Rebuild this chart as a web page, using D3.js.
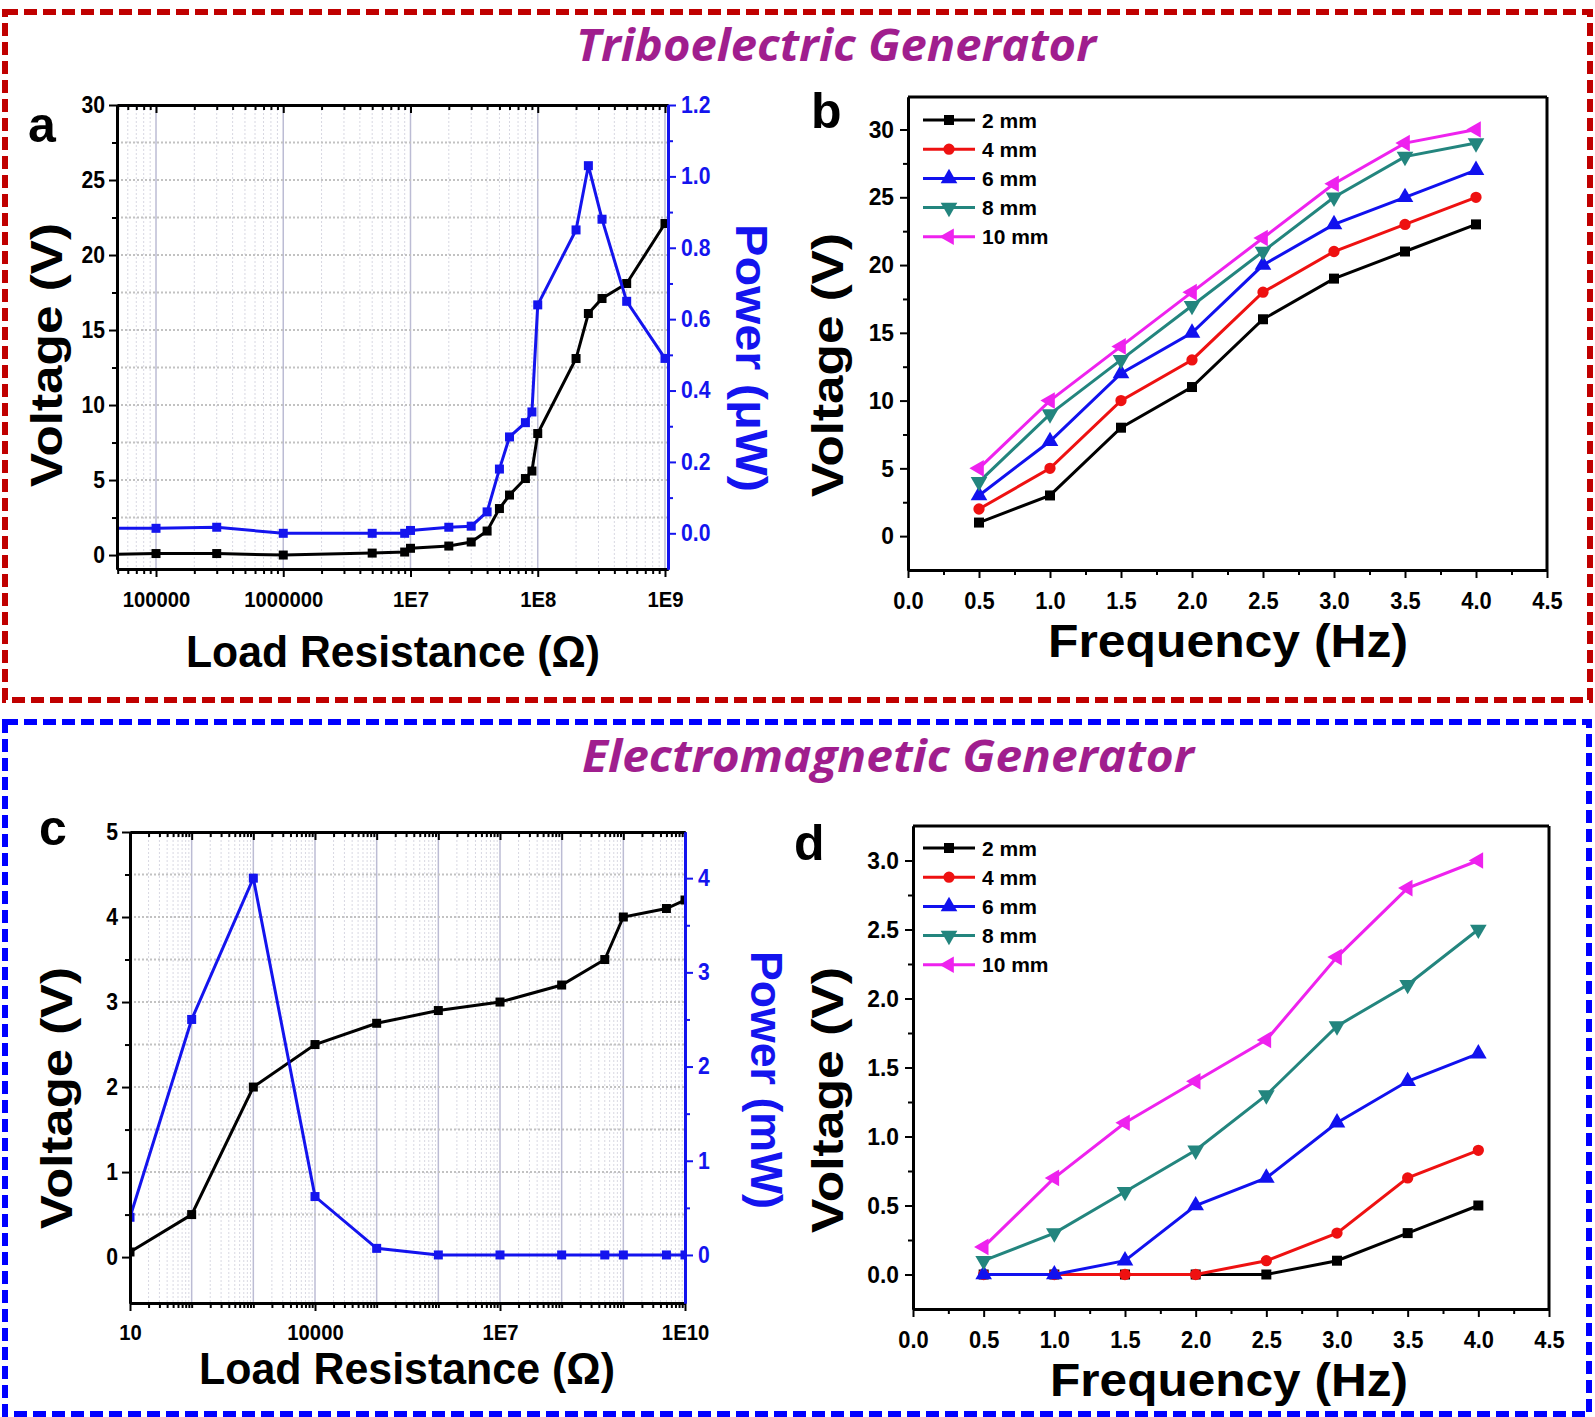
<!DOCTYPE html>
<html><head><meta charset="utf-8">
<script src="https://cdn.jsdelivr.net/npm/d3@7"></script>
<style>body{margin:0;background:#fff}</style>
</head><body><svg id="chart" width="1595" height="1417"></svg>
<script>
// ---------------- DATA ----------------
const triboResistance = [4e4, 1e5, 3e5, 1e6, 5e6, 9e6, 1e7, 2e7, 3e7, 4e7, 5e7, 6e7, 8e7, 9e7, 1e8, 2e8, 2.5e8, 3.2e8, 5e8, 1e9];
const triboVoltage    = [0.05, 0.1, 0.1, 0.0, 0.13, 0.2, 0.45, 0.6, 0.87, 1.6, 3.1, 4.0, 5.1, 5.6, 8.1, 13.1, 16.1, 17.1, 18.1, 22.1];
const triboPower      = [0.014, 0.014, 0.017, 0.0, 0.0, 0.0, 0.008, 0.017, 0.02, 0.06, 0.18, 0.27, 0.31, 0.34, 0.64, 0.85, 1.03, 0.88, 0.65, 0.49];

const emResistance = [1e1, 1e2, 1e3, 1e4, 1e5, 1e6, 1e7, 1e8, 5e8, 1e9, 5e9, 1e10];
const emVoltage    = [0.06, 0.5, 2.0, 2.5, 2.75, 2.9, 3.0, 3.2, 3.5, 4.0, 4.1, 4.2];
const emPower      = [0.4, 2.5, 4.0, 0.62, 0.07, 0.0, 0.0, 0.0, 0.0, 0.0, 0.0, 0.0];

const frequencies = [0.5, 1.0, 1.5, 2.0, 2.5, 3.0, 3.5, 4.0];
const gapLabels = ["2 mm", "4 mm", "6 mm", "8 mm", "10 mm"];
const triboFreqVoltage = [
  [1, 3, 8, 11, 16, 19, 21, 23],
  [2, 5, 10, 13, 18, 21, 23, 25],
  [3, 7, 12, 15, 20, 23, 25, 27],
  [4, 9, 13, 17, 21, 25, 28, 29],
  [5, 10, 14, 18, 22, 26, 29, 30]
];
const emFreqVoltage = [
  [0, 0, 0, 0, 0, 0.1, 0.3, 0.5],
  [0, 0, 0, 0, 0.1, 0.3, 0.7, 0.9],
  [0, 0, 0.1, 0.5, 0.7, 1.1, 1.4, 1.6],
  [0.1, 0.3, 0.6, 0.9, 1.3, 1.8, 2.1, 2.5],
  [0.2, 0.7, 1.1, 1.4, 1.7, 2.3, 2.8, 3.0]
];

const triboXTicks = [1e5, 1e6, 1e7, 1e8, 1e9];
const triboXTickLabels = ["100000", "1000000", "1E7", "1E8", "1E9"];
const emXTicks = [1e1, 1e4, 1e7, 1e10];
const emXTickLabels = ["10", "10000", "1E7", "1E10"];

// ---------------- STYLE ----------------
const FONT = "'Liberation Sans', Arial, Helvetica, sans-serif";
const BLUE = "#1414ee";
const seriesColors = ["#000000", "#ee1111", "#1111ee", "#23857e", "#ee22ee"];
const seriesSymbols = [
  {type: d3.symbolSquare, rot: 0, size: 100},
  {type: d3.symbolCircle, rot: 0, size: 100},
  {type: d3.symbolTriangle, rot: 0, size: 120},
  {type: d3.symbolTriangle, rot: 180, size: 120},
  {type: d3.symbolTriangle, rot: -90, size: 120}
];

const svg = d3.select("#chart");
svg.append("rect").attr("width", 1595).attr("height", 1417).attr("fill", "#fff");

function condense(sel, f) {
  sel.each(function () {
    const l = this.getComputedTextLength();
    if (l > 0) { this.setAttribute("textLength", l * f); this.setAttribute("lengthAdjust", "spacingAndGlyphs"); }
  });
}
function fixAxis(g, color, fontSize, cond) {
  g.select(".domain").attr("stroke", color).attr("stroke-width", 3);
  g.selectAll(".tick line").attr("stroke", color).attr("stroke-width", 2);
  const t = g.selectAll(".tick text").attr("fill", color).attr("font-family", FONT)
    .attr("font-weight", "bold").attr("font-size", fontSize);
  if (cond) condense(t, cond);
}
function textAt(x, y, str, o) {
  const t = svg.append("text").attr("x", 0).attr("y", 0)
    .attr("transform", `translate(${x},${y}) rotate(${o.rot || 0})`)
    .attr("text-anchor", o.anchor || "middle")
    .attr("font-family", o.family || FONT).attr("font-weight", o.weight || "bold")
    .attr("font-size", o.size).attr("fill", o.color || "#000")
    .attr("font-style", o.style || "normal").text(str);
  if (o.len) t.attr("textLength", o.len).attr("lengthAdjust", "spacingAndGlyphs");
  return t;
}

// ---------------- BORDERS & TITLES ----------------
svg.append("rect").attr("x", 5).attr("y", 12).attr("width", 1585).attr("height", 688)
  .attr("fill", "none").attr("stroke", "#c00000").attr("stroke-width", 6).attr("stroke-dasharray", "13,6");
svg.append("rect").attr("x", 5).attr("y", 722).attr("width", 1584).attr("height", 692)
  .attr("fill", "none").attr("stroke", "#0000ff").attr("stroke-width", 6).attr("stroke-dasharray", "13,6");

textAt(836, 61, "Triboelectric Generator", {size: 44, color: "#a01e8e", style: "italic", weight: "bold", family: "'Open Sans', 'Noto Sans', sans-serif", len: 520});
textAt(888, 772, "Electromagnetic Generator", {size: 44, color: "#a01e8e", style: "italic", weight: "bold", family: "'Open Sans', 'Noto Sans', sans-serif", len: 612});

// ---------------- LOG PANELS (a, c) ----------------
function minorLogTicks(lo, hi) {
  const out = [];
  for (let e = Math.floor(Math.log10(lo)); e <= Math.ceil(Math.log10(hi)); e++)
    for (let m = 2; m <= 9; m++) { const v = m * Math.pow(10, e); if (v >= lo && v <= hi) out.push(v); }
  return out;
}
function decades(lo, hi) {
  const out = [];
  for (let e = Math.ceil(Math.log10(lo) - 1e-9); e <= Math.floor(Math.log10(hi) + 1e-9); e++) out.push(Math.pow(10, e));
  return out;
}

function logPanel(c) {
  const {L, R, T, B} = c.box;
  const x = d3.scaleLog().domain(c.xDomain).range([L, R]);
  const y = d3.scaleLinear().domain(c.yDomain).range([B, T]);
  const p = d3.scaleLinear().domain(c.pDomain).range([B, T]);
  const clip = c.id + "-clip";
  svg.append("clipPath").attr("id", clip).append("rect").attr("x", L).attr("y", T - 8).attr("width", R - L).attr("height", B - T + 16);
  const g = svg.append("g");
  const [lo, hi] = x.domain();
  const minors = minorLogTicks(lo, hi);
  const decs = decades(lo, hi);
  // grid
  g.append("g").selectAll("line").data(minors).join("line")
    .attr("x1", d => x(d)).attr("x2", d => x(d)).attr("y1", T).attr("y2", B)
    .attr("stroke", "#d8d8e2").attr("stroke-width", 1).attr("stroke-dasharray", "2,2");
  g.append("g").selectAll("line").data(decs).join("line")
    .attr("x1", d => x(d)).attr("x2", d => x(d)).attr("y1", T).attr("y2", B)
    .attr("stroke", "#bcbcd4").attr("stroke-width", 1.5);
  g.append("g").selectAll("line").data(c.yGrid).join("line")
    .attr("x1", L).attr("x2", R).attr("y1", d => y(d)).attr("y2", d => y(d))
    .attr("stroke", "#c2c2c2").attr("stroke-width", 2).attr("stroke-dasharray", "2,2");

  // series
  const sg = svg.append("g").attr("clip-path", `url(#${clip})`);
  const volt = c.xs.map((v, i) => [v, c.volt[i]]);
  const pow = c.xs.map((v, i) => [v, c.pow[i]]);
  const lineV = d3.line().x(d => x(d[0])).y(d => y(d[1]));
  const lineP = d3.line().x(d => x(d[0])).y(d => p(d[1]));
  ["v", "p"].forEach(k => {
    const data = k === "v" ? volt : pow;
    const col = k === "v" ? "#000" : BLUE;
    const ln = k === "v" ? lineV : lineP;
    const ys = k === "v" ? y : p;
    sg.append("path").datum(data).attr("d", ln).attr("fill", "none").attr("stroke", col).attr("stroke-width", 3);
    sg.append("g").selectAll("rect").data(data).join("rect")
      .attr("x", d => x(d[0]) - 4.5).attr("y", d => ys(d[1]) - 4.5).attr("width", 9).attr("height", 9).attr("fill", col);
  });

  // axes
  const bx = svg.append("g").attr("transform", `translate(0,${B})`)
    .call(d3.axisBottom(x).tickValues(c.xTicks).tickFormat((d, i) => c.xLabels[i]).tickSize(8).tickSizeOuter(0).tickPadding(c.xPad));
  fixAxis(bx, "#000", 22, 0.92);
  const bxm = svg.append("g").attr("transform", `translate(0,${B})`)
    .call(d3.axisBottom(x).tickValues(minors.concat(decs.filter(d => !c.xTicks.includes(d)))).tickFormat("").tickSize(5).tickSizeOuter(0));
  fixAxis(bxm, "#000", 22);
  const tx = svg.append("g").attr("transform", `translate(0,${T})`)
    .call(d3.axisTop(x).tickValues(decs).tickFormat("").tickSize(-8).tickSizeOuter(0));
  fixAxis(tx, "#000", 22);
  const txm = svg.append("g").attr("transform", `translate(0,${T})`)
    .call(d3.axisTop(x).tickValues(minors).tickFormat("").tickSize(-5).tickSizeOuter(0));
  fixAxis(txm, "#000", 22);

  const ly = svg.append("g").attr("transform", `translate(${L},0)`)
    .call(d3.axisLeft(y).tickValues(c.yTicks).tickFormat(d3.format("d")).tickSize(8).tickSizeOuter(0).tickPadding(4));
  fixAxis(ly, "#000", 23, 0.92);
  const lym = svg.append("g").attr("transform", `translate(${L},0)`)
    .call(d3.axisLeft(y).tickValues(c.yMinor).tickFormat("").tickSize(5).tickSizeOuter(0));
  fixAxis(lym, "#000", 23);

  const ry = svg.append("g").attr("transform", `translate(${R},0)`)
    .call(d3.axisRight(p).tickValues(c.pTicks).tickFormat(c.pFmt).tickSize(8).tickSizeOuter(0).tickPadding(5));
  fixAxis(ry, BLUE, 23, 0.92);
  const rym = svg.append("g").attr("transform", `translate(${R},0)`)
    .call(d3.axisRight(p).tickValues(c.pMinor).tickFormat("").tickSize(5).tickSizeOuter(0));
  fixAxis(rym, BLUE, 23);
}

logPanel({
  id: "a", box: {L: 117, R: 668, T: 105, B: 569},
  xDomain: [49370, 1.056e9], yDomain: [-0.93, 30], pDomain: [-0.1, 1.2],
  xs: triboResistance, volt: triboVoltage, pow: triboPower,
  xTicks: triboXTicks, xLabels: triboXTickLabels, xPad: 14,
  yTicks: [0, 5, 10, 15, 20, 25, 30], yMinor: [2.5, 7.5, 12.5, 17.5, 22.5, 27.5],
  yGrid: [2.5, 5, 7.5, 10, 12.5, 15, 17.5, 20, 22.5, 25, 27.5],
  pTicks: [0, 0.2, 0.4, 0.6, 0.8, 1.0, 1.2], pMinor: [0.1, 0.3, 0.5, 0.7, 0.9, 1.1], pFmt: d3.format(".1f")
});
logPanel({
  id: "c", box: {L: 130, R: 685, T: 832, B: 1303},
  xDomain: [10, 1e10], yDomain: [-0.54, 5], pDomain: [-0.51, 4.49],
  xs: emResistance, volt: emVoltage, pow: emPower,
  xTicks: emXTicks, xLabels: emXTickLabels, xPad: 13,
  yTicks: [0, 1, 2, 3, 4, 5], yMinor: [0.5, 1.5, 2.5, 3.5, 4.5],
  yGrid: [0.5, 1, 1.5, 2, 2.5, 3, 3.5, 4, 4.5],
  pTicks: [0, 1, 2, 3, 4], pMinor: [0.5, 1.5, 2.5, 3.5], pFmt: d3.format("d")
});

// ---------------- FREQUENCY PANELS (b, d) ----------------
function freqPanel(c) {
  const {L, R, T, B} = c.box;
  const x = d3.scaleLinear().domain([0, 4.5]).range([L, R]);
  const y = d3.scaleLinear().domain(c.yDomain).range([B, T]);
  svg.append("line").attr("x1", L).attr("x2", R).attr("y1", T).attr("y2", T).attr("stroke", "#000").attr("stroke-width", 3);
  svg.append("line").attr("x1", R).attr("x2", R).attr("y1", T).attr("y2", B).attr("stroke", "#000").attr("stroke-width", 3);
  const bx = svg.append("g").attr("transform", `translate(0,${B})`)
    .call(d3.axisBottom(x).tickValues(d3.range(0, 4.51, 0.5)).tickFormat(d3.format(".1f")).tickSize(8).tickSizeOuter(0).tickPadding(15));
  fixAxis(bx, "#000", 23, 0.95);
  const bxm = svg.append("g").attr("transform", `translate(0,${B})`)
    .call(d3.axisBottom(x).tickValues(d3.range(0.25, 4.5, 0.5)).tickFormat("").tickSize(5).tickSizeOuter(0));
  fixAxis(bxm, "#000", 23);
  const ly = svg.append("g").attr("transform", `translate(${L},0)`)
    .call(d3.axisLeft(y).tickValues(c.yTicks).tickFormat(c.yFmt).tickSize(8).tickSizeOuter(0).tickPadding(6));
  fixAxis(ly, "#000", 24, 0.95);
  const lym = svg.append("g").attr("transform", `translate(${L},0)`)
    .call(d3.axisLeft(y).tickValues(c.yMinor).tickFormat("").tickSize(5).tickSizeOuter(0));
  fixAxis(lym, "#000", 24);

  const line = d3.line().x(d => x(d[0])).y(d => y(d[1]));
  c.values.forEach((vals, si) => {
    const data = frequencies.map((f, i) => [f, vals[i]]);
    const col = seriesColors[si], sym = seriesSymbols[si];
    svg.append("path").datum(data).attr("d", line).attr("fill", "none").attr("stroke", col).attr("stroke-width", 3);
    svg.append("g").selectAll("path").data(data).join("path")
      .attr("d", d3.symbol().type(sym.type).size(sym.size))
      .attr("transform", d => `translate(${x(d[0])},${y(d[1])}) rotate(${sym.rot})`)
      .attr("fill", col);
  });
  gapLabels.forEach((lab, i) => {
    const ly0 = c.legendY + i * 29.2;
    const col = seriesColors[i], sym = seriesSymbols[i];
    svg.append("line").attr("x1", 923).attr("x2", 975).attr("y1", ly0).attr("y2", ly0).attr("stroke", col).attr("stroke-width", 3);
    svg.append("path").attr("d", d3.symbol().type(sym.type).size(sym.size))
      .attr("transform", `translate(949,${ly0}) rotate(${sym.rot})`).attr("fill", col);
    textAt(982, ly0 + 7.5, lab, {size: 21, anchor: "start"});
  });
}

freqPanel({
  box: {L: 908, R: 1547, T: 97, B: 570}, yDomain: [-2.5, 32.4],
  yTicks: [0, 5, 10, 15, 20, 25, 30], yMinor: [2.5, 7.5, 12.5, 17.5, 22.5, 27.5], yFmt: d3.format("d"),
  values: triboFreqVoltage, legendY: 120
});
freqPanel({
  box: {L: 913, R: 1549, T: 826, B: 1309}, yDomain: [-0.25, 3.25],
  yTicks: [0, 0.5, 1.0, 1.5, 2.0, 2.5, 3.0], yMinor: [0.25, 0.75, 1.25, 1.75, 2.25, 2.75], yFmt: d3.format(".1f"),
  values: emFreqVoltage, legendY: 848
});

// ---------------- AXIS TITLES & PANEL LETTERS ----------------
textAt(62, 355, "Voltage (V)", {size: 44, rot: -90, len: 264});
textAt(843, 365, "Voltage (V)", {size: 44, rot: -90, len: 264});
textAt(72, 1098, "Voltage (V)", {size: 44, rot: -90, len: 262});
textAt(843, 1100, "Voltage (V)", {size: 44, rot: -90, len: 266});
textAt(736, 358, "Power (\u03bcW)", {size: 44, rot: 90, len: 268, color: BLUE});
textAt(751, 1080, "Power (mW)", {size: 44, rot: 90, len: 258, color: BLUE});
textAt(393, 667, "Load Resistance (\u03a9)", {size: 44, len: 414});
textAt(407, 1384, "Load Resistance (\u03a9)", {size: 44, len: 416});
textAt(1228, 657, "Frequency (Hz)", {size: 46, len: 360});
textAt(1229, 1396, "Frequency (Hz)", {size: 46, len: 358});

textAt(28, 142, "a", {size: 50, anchor: "start"});
textAt(811, 128, "b", {size: 50, anchor: "start"});
textAt(39, 845, "c", {size: 50, anchor: "start"});
textAt(794, 860, "d", {size: 50, anchor: "start"});
</script></body></html>
